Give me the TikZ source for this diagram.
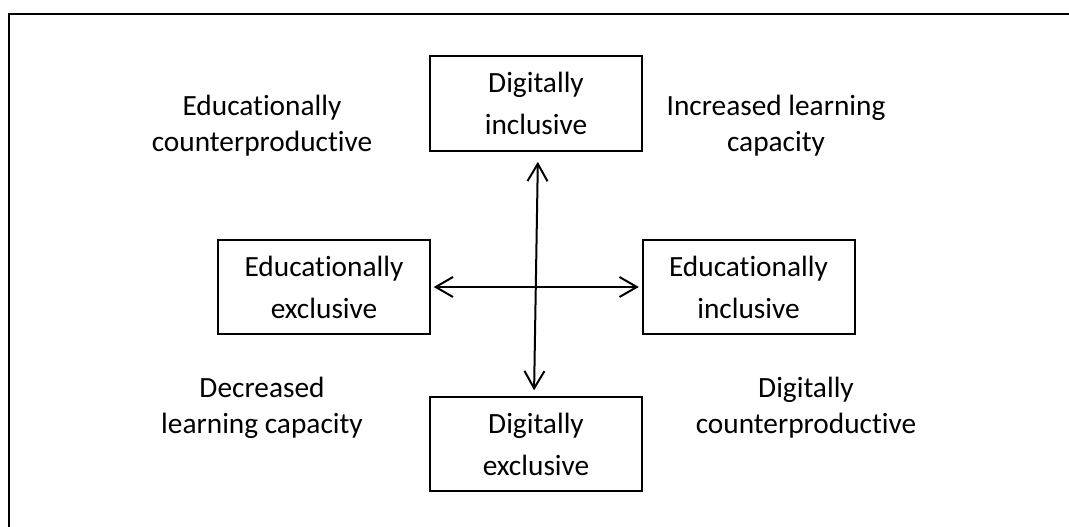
\documentclass[tikz,border=0pt]{standalone}
\usepackage{fontspec}
\setmainfont{Carlito}[RawFeature=-liga]
\usetikzlibrary{arrows.meta}

\begin{document}
\begin{tikzpicture}[x=0.75pt,y=-0.75pt]
\tikzset{every node/.style={font=\fontsize{22}{27}\selectfont, align=center}}
\tikzset{quadbox/.style={draw, line width=1.5pt, minimum width=159pt, minimum height=71pt, inner sep=0pt}}
\tikzset{biarrow/.style={line width=1.5pt, {Straight Barb[length=13pt,width=15pt,line width=1.5pt]}-{Straight Barb[length=13pt,width=15pt,line width=1.5pt]}}}

\useasboundingbox (0,0) rectangle (1069,527);

% Frame
\draw[line width=1.5pt] (1075,14) -- (9,14) -- (9,535);

% Nodes for boxes
\node[quadbox] at (536, 103.5) (DigIn) {Digitally\\[4.5pt]inclusive};
\node[quadbox] at (324, 287) (EduEx) {Educationally\\[4.5pt]exclusive};
\node[quadbox] at (748.5, 287) (EduIn) {Educationally\\[4.5pt]inclusive};
\node[quadbox] at (536, 444) (DigEx) {Digitally\\[4.5pt]exclusive};

% Nodes for quadrants
\node at (262, 126) (EduCp) {Educationally\\counterproductive};
\node at (776, 126) (IncLc) {Increased learning\\capacity};
\node at (262, 408) (DecLc) {Decreased\\learning capacity};
\node at (806, 408) (DigCp) {Digitally\\counterproductive};

% Arrows
\draw[biarrow, shorten <=2pt, shorten >=2pt] (EduEx.east) -- (EduIn.west);
\draw[biarrow, shorten <=7.5pt, shorten >=4pt] ([xshift=1.5pt]DigIn.south) -- ([xshift=-1.5pt]DigEx.north);
\end{tikzpicture}
\end{document}
